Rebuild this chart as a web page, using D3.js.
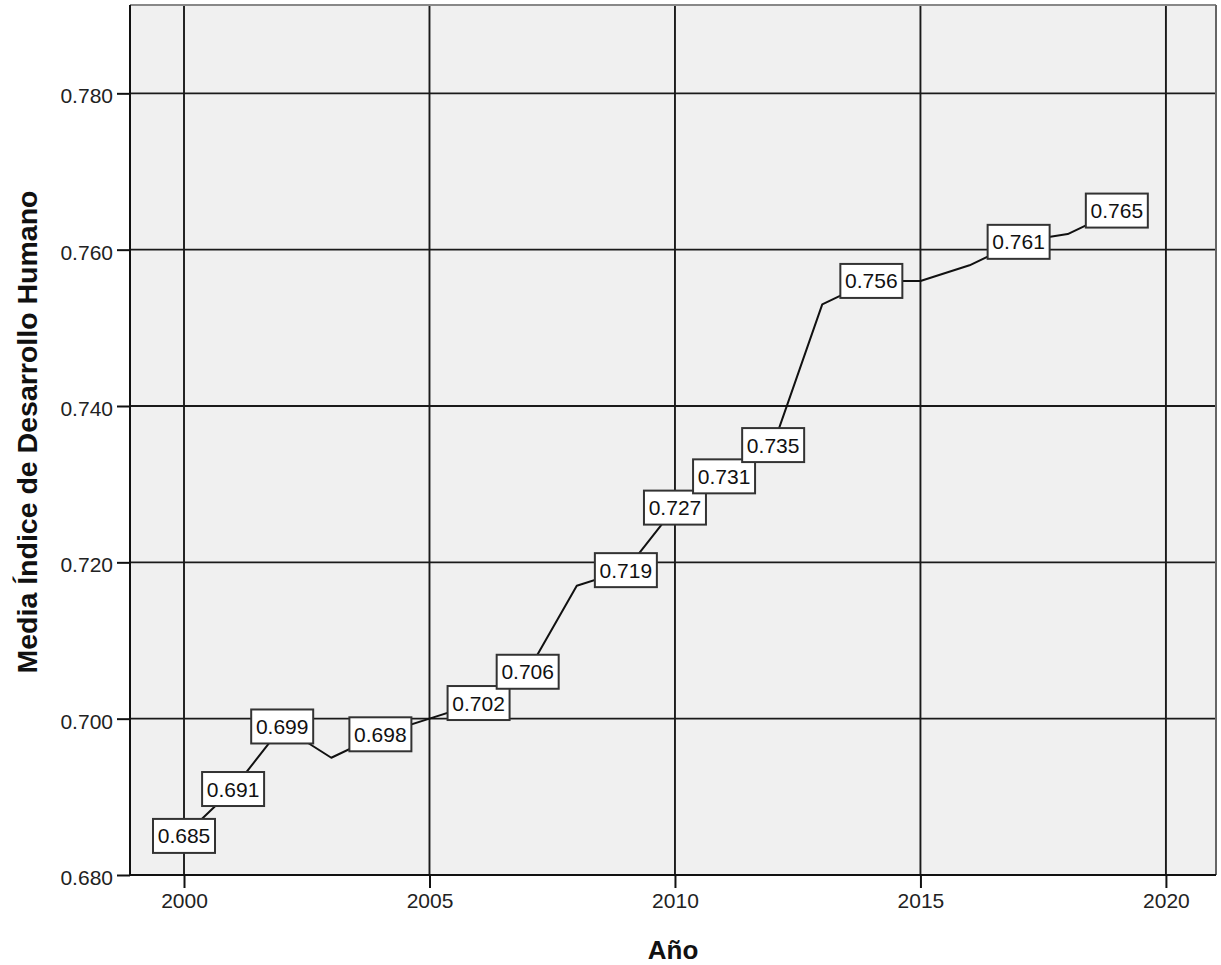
<!DOCTYPE html>
<html>
<head>
<meta charset="utf-8">
<script src="https://cdn.jsdelivr.net/npm/d3@7"></script>
<style>
  html, body { margin: 0; padding: 0; background: #fff; }
  svg { display: block; font-family: "Liberation Sans", Arial, sans-serif; }
</style>
</head>
<body>
<svg id="chart" width="1221" height="965"></svg>
<script>
const years = [2000, 2001, 2002, 2003, 2004, 2005, 2006, 2007, 2008, 2009,
               2010, 2011, 2012, 2013, 2014, 2015, 2016, 2017, 2018, 2019];
const idhValues = [0.685, 0.691, 0.699, 0.695, 0.698, 0.700, 0.702, 0.706, 0.717, 0.719,
                   0.727, 0.731, 0.735, 0.753, 0.756, 0.756, 0.758, 0.761, 0.762, 0.765];
const labelledYears = [2000, 2001, 2002, 2004, 2006, 2007, 2009, 2010, 2011, 2012, 2014, 2017, 2019];
const xTicks = [2000, 2005, 2010, 2015, 2020];
const yTicks = [0.680, 0.700, 0.720, 0.740, 0.760, 0.780];
const xTitle = "Año";
const yTitle = "Media Índice de Desarrollo Humano";

(function () {
const svg = d3.select("#chart");
const pL = 130, pR = 1216, pT = 5, pB = 875;

const x = d3.scaleLinear().domain([1998.9, 2021.02]).range([pL, pR]);
const y = d3.scaleLinear().domain([0.680, 0.7913]).range([pB, pT]);

svg.append("rect").attr("x", pL).attr("y", pT)
  .attr("width", pR - pL).attr("height", pB - pT)
  .attr("fill", "#f0f0f0");

svg.append("g").selectAll("line").data(xTicks).join("line")
  .attr("x1", d => x(d)).attr("x2", d => x(d))
  .attr("y1", pT).attr("y2", pB)
  .attr("stroke", "#1a1a1a").attr("stroke-width", 1.9);
svg.append("g").selectAll("line").data(yTicks).join("line")
  .attr("x1", pL).attr("x2", pR)
  .attr("y1", d => y(d)).attr("y2", d => y(d))
  .attr("stroke", "#1a1a1a").attr("stroke-width", 1.9);

svg.append("line").attr("x1", pL).attr("x2", pR).attr("y1", pT).attr("y2", pT)
  .attr("stroke", "#888").attr("stroke-width", 2);
svg.append("line").attr("x1", pR).attr("x2", pR).attr("y1", pT).attr("y2", pB)
  .attr("stroke", "#666").attr("stroke-width", 2);

const xAxis = d3.axisBottom(x).tickValues(xTicks).tickFormat(d3.format("d"))
  .tickSizeInner(13).tickSizeOuter(0).tickPadding(5);
const gx = svg.append("g").attr("transform", `translate(0,${pB})`).call(xAxis);
const yAxis = d3.axisLeft(y).tickValues(yTicks).tickFormat(d3.format(".3f"))
  .tickSizeInner(13).tickSizeOuter(0).tickPadding(4);
const gy = svg.append("g").attr("transform", `translate(${pL},0)`).call(yAxis);

[gx, gy].forEach(g => {
  g.select(".domain").attr("stroke", "#111").attr("stroke-width", 2);
  g.selectAll(".tick line").attr("stroke", "#111").attr("stroke-width", 2);
  g.selectAll(".tick text").attr("fill", "#222").style("font-size", "21px")
    .style("font-family", "'Liberation Sans', Arial, sans-serif");
});
gy.selectAll(".tick text").attr("dy", "0.45em");
gx.selectAll(".tick text").attr("dy", "0.72em");
gy.select(".domain").attr("d", `M0,${pT}V${pB}`);
gx.select(".domain").attr("d", `M${pL},0H${pR}`);

const pts = years.map((yr, i) => ({ year: yr, v: idhValues[i] }));
svg.append("path").datum(pts)
  .attr("d", d3.line().x(d => x(d.year)).y(d => y(d.v)))
  .attr("fill", "none").attr("stroke", "#111").attr("stroke-width", 2)
  .attr("stroke-linejoin", "round");

const lbl = svg.append("g").selectAll("g").data(pts.filter(d => labelledYears.includes(d.year))).join("g")
  .attr("transform", d => `translate(${x(d.year)},${y(d.v)})`);
lbl.append("rect").attr("x", -31).attr("y", -17).attr("width", 62).attr("height", 34)
  .attr("fill", "#fff").attr("stroke", "#333").attr("stroke-width", 2);
lbl.append("text").attr("text-anchor", "middle").attr("dy", "0.36em")
  .style("font-size", "21px").attr("fill", "#111")
  .text(d => d3.format(".3f")(d.v));

svg.append("text").attr("x", (pL + pR) / 2).attr("y", 959)
  .attr("text-anchor", "middle").style("font-size", "26px").style("font-weight", "bold")
  .attr("fill", "#111").text(xTitle);
svg.append("text").attr("transform", `translate(37,432) rotate(-90)`)
  .attr("text-anchor", "middle").style("font-size", "28.5px").style("font-weight", "bold")
  .attr("fill", "#111").text(yTitle);
})();
</script>
</body>
</html>
